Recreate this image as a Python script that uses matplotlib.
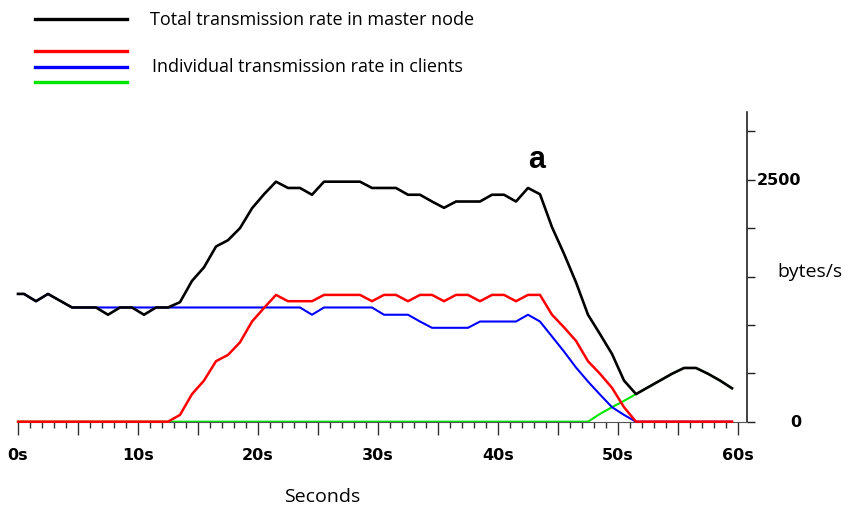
import matplotlib
matplotlib.use("Agg")
import matplotlib.pyplot as plt
import matplotlib.transforms as mtransforms
from matplotlib.lines import Line2D
from matplotlib.ticker import MultipleLocator, FixedLocator, FuncFormatter
import numpy as np

# sample times (s): a start point, then one sample per second on the half second
times = [0] + [i + 0.5 for i in range(60)]

# total rate in master node (bytes/s)
total_rate = [1320, 1320, 1245, 1320, 1250, 1180, 1180, 1180, 1105, 1180,
              1180, 1105, 1180, 1180, 1235, 1455, 1595, 1810, 1875, 2000,
              2205, 2350, 2480, 2415, 2415, 2345, 2480, 2480, 2480, 2480,
              2415, 2415, 2415, 2345, 2345, 2275, 2210, 2275, 2275, 2275,
              2345, 2345, 2275, 2415, 2350, 2010, 1735, 1440, 1105, 905,
              700, 425, 285, 355, 425, 495, 555, 555, 495, 425, 345]

# individual client rates
client_red = ([0] * 14 +
              [70, 285, 425, 625, 690, 820, 1035, 1175, 1310,
               1245, 1245, 1245, 1310, 1310, 1310, 1310, 1245, 1310, 1310,
               1245, 1310, 1310, 1245, 1310, 1310, 1245, 1310, 1310, 1245,
               1310, 1310, 1105, 975, 835, 625, 495, 350, 150] +
              [0] * 9)
client_blue = ([1320, 1320, 1245, 1320, 1250] + [1180] * 20 + [1105] +
               [1180] * 5 + [1105] * 3 + [1035] + [970] * 4 + [1035] * 4 +
               [1105, 1035, 880, 725, 560, 415, 280, 150, 70] + [0] * 9)
client_green = ([0] * 49 + [80, 150, 215, 285] +
                [355, 425, 495, 555, 555, 495, 425, 345])

W, H = 858, 506
fig = plt.figure(figsize=(W / 100, H / 100), dpi=100)
ax = fig.add_axes([0, 1 - 440 / H, 747 / W, (440 - 113) / H])

ax.plot(times, client_green, color="#00e600", lw=1.5, zorder=2)
ax.plot(times, client_blue, color="#0000ff", lw=1.5, zorder=3)
ax.plot(times, client_red, color="#ff0000", lw=1.8, zorder=4)
ax.plot(times, total_rate, color="black", lw=1.9, zorder=5)

ax.set_xlim(-1.5, 60.75)
ax.set_ylim(-179, 3200)

ax.spines["left"].set_visible(False)
ax.spines["top"].set_visible(False)
ax.spines["right"].set_bounds(0, 3200)
ax.spines["right"].set_linewidth(1.2)
ax.spines["right"].set_color("#222222")
ax.spines["bottom"].set_position(("data", 0))
ax.spines["bottom"].set_bounds(0, 60.75)
ax.spines["bottom"].set_color("#555555")
ax.spines["bottom"].set_linewidth(0.8)

# x axis ticks: every second, longer every 5 s, labels every 10 s
ax.xaxis.set_major_locator(MultipleLocator(5))
ax.xaxis.set_minor_locator(FixedLocator(range(0, 61)))
ax.xaxis.set_major_formatter(FuncFormatter(lambda v, p: f"{int(v)}s" if v % 10 == 0 else ""))
ax.tick_params(axis="x", which="major", length=9.4, width=1, color="#333333",
               pad=9, labelsize=11.5)
ax.tick_params(axis="x", which="minor", length=4.3, width=1, color="#333333")
for lab in ax.get_xticklabels():
    lab.set_fontweight("bold")

# y axis on the right, labels placed by hand
ax.yaxis.tick_right()
ax.set_yticks(range(0, 3001, 500))
ax.set_yticklabels([])
ax.tick_params(axis="y", length=5.8, width=1, color="#222222")
ytrans = mtransforms.blended_transform_factory(fig.transFigure, ax.transData)
for v in [0, 2500]:
    ax.text(801 / W, v, str(v), transform=ytrans, ha="right", va="center",
            fontsize=11.5, fontweight="bold")

ax.text(43.25, 2715, "a", fontsize=22, fontweight="bold", family="Liberation Sans",
        ha="center", va="center")

fig.text(810 / W, 1 - 272 / H, "bytes/s", ha="center", va="center",
         fontsize=14, family="Open Sans")
fig.text(322 / W, 1 - 497 / H, "Seconds", ha="center", va="center",
         fontsize=14, family="Open Sans")

# legend drawn in figure coordinates
for y, c in [(20, "black"), (52, "#ff0000"), (68, "#0000ff"), (83, "#00e600")]:
    fig.add_artist(Line2D([35 / W, 127 / W], [1 - y / H] * 2, color=c, lw=2.4,
                          transform=fig.transFigure))
fig.text(150 / W, 1 - 20 / H, "Total transmission rate in master node",
         ha="left", va="center", fontsize=13, family="Open Sans")
fig.text(152 / W, 1 - 67 / H, "Individual transmission rate in clients",
         ha="left", va="center", fontsize=13, family="Open Sans")

fig.savefig("out.png", dpi=100)
